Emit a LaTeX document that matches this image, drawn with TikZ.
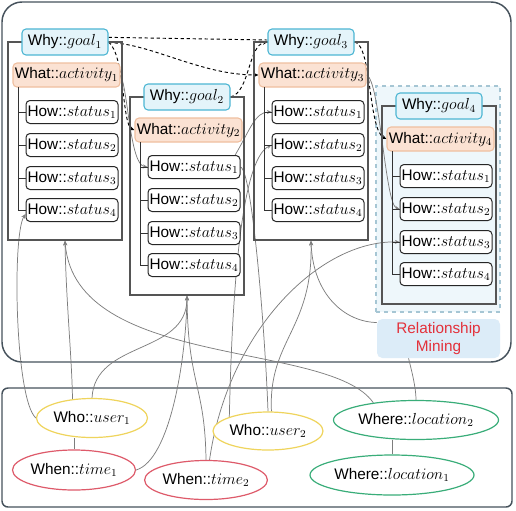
\documentclass[tikz,border=0pt]{standalone}
\usepackage{fontspec}
\setmainfont{Liberation Sans}
\usetikzlibrary{arrows.meta,shapes.geometric}
\pgfdeclarelayer{back}
\pgfdeclarelayer{mid}
\pgfsetlayers{back,mid,main}
\definecolor{outerc}{HTML}{46525C}
\definecolor{colc}{HTML}{555555}
\definecolor{goalb}{HTML}{4CB6D3}
\definecolor{goalf}{HTML}{E4F4FA}
\definecolor{actb}{HTML}{EFBF9F}
\definecolor{actf}{HTML}{FBE2D3}
\definecolor{dboxf}{HTML}{EEF7FB}
\definecolor{dboxb}{HTML}{A6C6D4}
\definecolor{rmf}{HTML}{DCECF8}
\definecolor{rmt}{HTML}{E3313B}
\definecolor{connc}{HTML}{7D7D7D}
\definecolor{yelc}{HTML}{EFD45C}
\definecolor{redc}{HTML}{DE5A6A}
\definecolor{grnc}{HTML}{39AD79}
\newcommand\drawcol[3]{%
  \node[colbox] (b#1) at (#2+57,#3+99) {};
  \node[goalbox] (g#1) at (#2+57,#3) {Why::$goal_{#1}$};
  \node[actbox] (a#1) at (#2+58.5,#3+33) {What::$activity_{#1}$};
  \foreach \k/\dy in {1/70,2/103,3/136,4/168} {%
    \node[howbox] (s#1\k) at (#2+64,#3+\dy) {How::$status_{\k}$};
    \draw[tree] (s#1\k.west) -- ++(-8,0);
  }
  \draw[tree] (#2+10,#3+45) |- (s#14.west);
}
\begin{document}
\begin{tikzpicture}[x=0.75pt,y=-0.75pt,
  txt/.style={font=\fontsize{11.5}{13.5}\selectfont},
  colbox/.style={draw=colc,line width=1.1pt,minimum width=85.5pt,minimum height=148.5pt,inner sep=0pt},
  goalbox/.style={txt,draw=goalb,fill=goalf,line width=0.8pt,rounded corners=3pt,minimum width=64.5pt,minimum height=19.5pt,inner sep=0pt},
  actbox/.style={txt,draw=actb,fill=actf,line width=0.8pt,rounded corners=3pt,minimum width=80.25pt,minimum height=18pt,inner sep=0pt},
  howbox/.style={txt,draw=black!85,fill=white,line width=0.75pt,rounded corners=3pt,minimum width=69pt,minimum height=17.25pt,inner sep=0pt},
  tree/.style={draw=black!80,line width=0.7pt},
  ell/.style={txt,ellipse,fill=white,line width=0.9pt,inner sep=0pt},
  conn/.style={draw=connc,line width=0.55pt},
  arr/.style={-{Stealth[length=3.5pt,width=3pt]}},
  dsh/.style={draw=black,line width=0.7pt,dash pattern=on 2.5pt off 2pt}
]
\useasboundingbox (0,0) rectangle (516,510);
\begin{pgfonlayer}{back}
  \draw[outerc,line width=1.1pt,fill=white,rounded corners=15pt] (2,2) rectangle (511,362);
  \draw[outerc,line width=1.1pt,fill=white,rounded corners=4.5pt] (2,388) rectangle (512,507);
  \node[draw=dboxb,fill=dboxf,dashed,line width=0.8pt,minimum width=93pt,minimum height=169.5pt,inner sep=0pt] (bg4) at (438,199) {};
\end{pgfonlayer}

\drawcol{1}{8}{42}
\drawcol{2}{130}{97}
\drawcol{3}{254}{42}
\drawcol{4}{382}{106}

\node[txt,fill=rmf,text=rmt,rounded corners=4pt,minimum width=92.25pt,minimum height=29.25pt,inner sep=0pt,align=center] (rm) at (438.5,338.5) {Relationship\\Mining};

\node[ell,draw=yelc,minimum width=83.25pt,minimum height=29.25pt] (u1) at (92,418) {Who::$user_1$};
\node[ell,draw=redc,minimum width=92.25pt,minimum height=30pt] (t1) at (74,470) {When::$time_1$};
\node[ell,draw=redc,minimum width=91.5pt,minimum height=29.25pt] (t2) at (206,480) {When::$time_2$};
\node[ell,draw=yelc,minimum width=82.5pt,minimum height=28.5pt] (u2) at (268,431) {Who::$user_2$};
\node[ell,draw=grnc,minimum width=123.75pt,minimum height=29.25pt] (loc2) at (416,420) {Where::$location_2$};
\node[ell,draw=grnc,minimum width=123pt,minimum height=30pt] (loc1) at (392,475) {Where::$location_1$};

\begin{pgfonlayer}{mid}
  % dashed relations
  \draw[dsh] ([yshift=3.5pt]g1.east) -- ([yshift=1.5pt]g3.west);
  \draw[dsh,arr] ([yshift=-0.5pt]g1.east) .. controls (150,43) and (200,75) .. (a3.west);
  \draw[dsh,arr] (g1.east) .. controls (125,55) and (122,125) .. (a2.west);
  \draw[dsh,arr] (g2.east) .. controls (250,92) and (248,45) .. (g3.west);
  \draw[dsh,arr] (g3.east) .. controls (372,45) and (368,130) .. (a4.west);
  % solid relations
  \draw[conn,arr] (a1.east) .. controls (128,90) and (130,165) .. (s21.west);
  \draw[conn,arr] ([xshift=-4pt]s21.north east) .. controls (250,130) and (255,112) .. (s31.west);
  \draw[conn] (s21.east) .. controls (252,170) and (265,330) .. (u2.north);
  \draw[conn,arr] (u2.160) .. controls (232,300) and (240,160) .. (s32.west);
  \draw[conn,arr] (u2.80) .. controls (268,340) and (313,330) .. (b3.south);
  \draw[conn,arr] ([yshift=12pt]rm.west) .. controls (345,322) and (313,295) .. (b3.south);
  \draw[conn] ([xshift=-22.5pt]rm.south) .. controls (412,372) and (416,388) .. (loc2.north);
  \draw[conn,arr] (loc2.158) .. controls (330,340) and (75,370) .. (b1.south);
  \draw[conn,arr] (u1.136) .. controls (72,360) and (66,300) .. (b1.south);
  \draw[conn,arr] (u1.west) .. controls (15,400) and (12,235) .. ([yshift=-3pt]s14.west);
  \draw[conn,arr] (u1.north) .. controls (95,340) and (187,355) .. (b2.south);
  \draw[conn,arr] (t1.east) .. controls (170,460) and (186,360) .. (b2.south);
  \draw[conn,arr] (t2.north) .. controls (205,385) and (188,385) .. (b2.south);
  \draw[conn,arr] (t2.80) .. controls (228,330) and (320,240) .. (s43.west);
  \draw[conn,arr] (a3.east) .. controls (380,80) and (385,205) .. (s42.west);
  \draw[conn] (t1.north |- u1.south) -- (t1.north);
  \draw[conn] (loc1.north |- loc2.south) -- (loc1.north);
\end{pgfonlayer}
\end{tikzpicture}
\end{document}
